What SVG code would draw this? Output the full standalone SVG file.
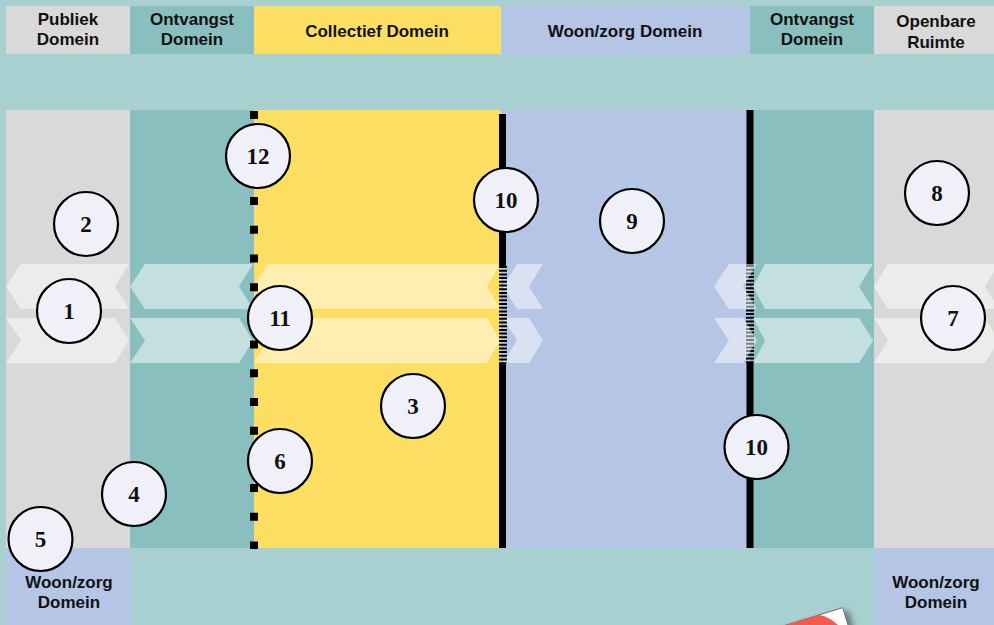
<svg xmlns="http://www.w3.org/2000/svg" width="994" height="625" viewBox="0 0 994 625">
  <defs>
    <style>
      .hdr { font-family: "Liberation Sans", Arial, sans-serif; font-weight: bold; font-size: 17px; fill: #111; text-anchor: middle; }
      .num { font-family: "Liberation Serif", "Times New Roman", serif; font-weight: bold; font-size: 23px; fill: #111; text-anchor: middle; }
      .badge { fill: #eff0f8; stroke: #000; stroke-width: 2.2; }
      .arrow { fill: #ffffff; fill-opacity: 0.5; }
      .wall { stroke: #000; stroke-width: 7; fill: none; }
      .hatch { stroke: #000; stroke-width: 8; stroke-dasharray: 2 1.7; fill: none; }
      .dots { stroke: #000; stroke-width: 8; stroke-dasharray: 8 20.7; fill: none; }
    </style>
    <filter id="cardShadow" x="-30%" y="-30%" width="160%" height="160%">
      <feGaussianBlur in="SourceAlpha" stdDeviation="3"/>
      <feOffset dx="5" dy="3" result="b"/>
      <feComponentTransfer><feFuncA type="linear" slope="0.45"/></feComponentTransfer>
      <feMerge><feMergeNode/><feMergeNode in="SourceGraphic"/></feMerge>
    </filter>
    <clipPath id="cardClip">
      <polygon points="842.7,607.7 747.1,636.9 764.6,694 860.2,665"/>
    </clipPath>
  </defs>

  <!-- base -->
  <rect x="0" y="0" width="994" height="625" fill="#a9d0d0"/>

  <!-- header bands -->
  <g id="header">
    <rect x="6" y="6" width="124" height="48" fill="#d9d9d9"/>
    <rect x="130" y="6" width="124" height="48" fill="#89bfbe"/>
    <rect x="254" y="6" width="247" height="48" fill="#fcdf62"/>
    <rect x="501" y="6" width="249" height="48" fill="#b4c5e5"/>
    <rect x="750" y="6" width="124" height="48" fill="#89bfbe"/>
    <rect x="874" y="6" width="120" height="48" fill="#d9d9d9"/>
    <text class="hdr" x="68" y="25">Publiek</text>
    <text class="hdr" x="68" y="45">Domein</text>
    <text class="hdr" x="192" y="25">Ontvangst</text>
    <text class="hdr" x="192" y="45">Domein</text>
    <text class="hdr" x="377" y="37">Collectief Domein</text>
    <text class="hdr" x="625" y="37">Woon/zorg Domein</text>
    <text class="hdr" x="812" y="25">Ontvangst</text>
    <text class="hdr" x="812" y="45">Domein</text>
    <text class="hdr" x="936" y="27">Openbare</text>
    <text class="hdr" x="936" y="47.5">Ruimte</text>
  </g>

  <!-- domain columns -->
  <g id="columns">
    <rect x="6" y="110" width="124" height="438" fill="#d9d9d9"/>
    <rect x="130" y="110" width="124" height="438" fill="#89bfbe"/>
    <rect x="254" y="110" width="247" height="438" fill="#fcdf62"/>
    <rect x="501" y="110" width="249" height="438" fill="#b4c5e5"/>
    <rect x="750" y="110" width="124" height="438" fill="#89bfbe"/>
    <rect x="874" y="110" width="120" height="438" fill="#d9d9d9"/>
  </g>

  <!-- footer boxes -->
  <g id="footer">
    <rect x="6" y="548" width="124" height="77" fill="#b4c5e5"/>
    <rect x="874" y="548" width="120" height="77" fill="#b4c5e5"/>
    <text class="hdr" x="69" y="588">Woon/zorg</text>
    <text class="hdr" x="69" y="608">Domein</text>
    <text class="hdr" x="936" y="588">Woon/zorg</text>
    <text class="hdr" x="936" y="608">Domein</text>
  </g>

  <!-- right boundary wall (passable section below the arrows) -->
  <g id="wall-right">
    <line class="wall" x1="750" y1="110" x2="750" y2="265"/>
    <line class="hatch" x1="750" y1="265" x2="750" y2="363"/>
    <line class="wall" x1="750" y1="363" x2="750" y2="548"/>
  </g>

  <!-- movement arrows: top row points inward (left), bottom row outward (right) -->
  <g id="arrows">
    <polygon class="arrow" points="6,286.5 21,264 129,264 115,286.5 129,309 21,309"/>
    <polygon class="arrow" points="130,286.5 145,264 253,264 239,286.5 253,309 145,309"/>
    <polygon class="arrow" points="254,286.5 268,264 500,264 487,286.5 500,309 268,309"/>
    <polygon class="arrow" points="503,286.5 517,264 543,264 529,286.5 543,309 517,309"/>
    <polygon class="arrow" points="714,286.5 729,264 757,264 743,286.5 757,309 729,309"/>
    <polygon class="arrow" points="753,286.5 765,264 873,264 859,286.5 873,309 765,309"/>
    <polygon class="arrow" points="874,286.5 888,264 999,264 985,286.5 999,309 888,309"/>

    <polygon class="arrow" points="6,318 115,318 129,340.5 115,363 6,363 21,340.5"/>
    <polygon class="arrow" points="130,318 239,318 253,340.5 239,363 130,363 145,340.5"/>
    <polygon class="arrow" points="254,318 487,318 500,340.5 487,363 254,363 268,340.5"/>
    <polygon class="arrow" points="503,318 529,318 543,340.5 529,363 503,363 517,340.5"/>
    <polygon class="arrow" points="714,318 743,318 757,340.5 743,363 714,363 729,340.5"/>
    <polygon class="arrow" points="753,318 859,318 873,340.5 859,363 753,363 765,340.5"/>
    <polygon class="arrow" points="874,318 985,318 999,340.5 985,363 874,363 888,340.5"/>
  </g>

  <!-- left boundary wall of the living domain -->
  <g id="wall-left">
    <line class="wall" x1="502.5" y1="114" x2="502.5" y2="266"/>
    <line class="hatch" x1="503" y1="266" x2="503" y2="363"/>
    <line class="wall" x1="502.5" y1="363" x2="502.5" y2="548"/>
  </g>

  <!-- dotted threshold between reception and collective domain -->
  <g id="threshold">
    <line class="dots" x1="254" y1="111" x2="254" y2="549"/>
  </g>

  <!-- numbered markers -->
  <g id="node-1"><circle class="badge" cx="69" cy="311" r="32"/><text class="num" x="69" y="319">1</text></g>
  <g id="node-2"><circle class="badge" cx="86" cy="224" r="32"/><text class="num" x="86" y="232">2</text></g>
  <g id="node-3"><circle class="badge" cx="413" cy="406" r="32"/><text class="num" x="413" y="414">3</text></g>
  <g id="node-4"><circle class="badge" cx="134" cy="494" r="32"/><text class="num" x="134" y="502">4</text></g>
  <g id="node-5"><circle class="badge" cx="40.5" cy="539" r="32"/><text class="num" x="40.5" y="547">5</text></g>
  <g id="node-6"><circle class="badge" cx="280" cy="461" r="32"/><text class="num" x="280" y="469">6</text></g>
  <g id="node-7"><circle class="badge" cx="953" cy="318" r="32"/><text class="num" x="953" y="326">7</text></g>
  <g id="node-8"><circle class="badge" cx="937" cy="193" r="32"/><text class="num" x="937" y="201">8</text></g>
  <g id="node-9"><circle class="badge" cx="632" cy="221" r="32"/><text class="num" x="632" y="229">9</text></g>
  <g id="node-10a"><circle class="badge" cx="506" cy="200" r="32"/><text class="num" x="506" y="208">10</text></g>
  <g id="node-10b"><circle class="badge" cx="756.5" cy="447" r="32"/><text class="num" x="756.5" y="455">10</text></g>
  <g id="node-11"><circle class="badge" cx="280" cy="318" r="32"/><text class="num" x="280" y="326">11</text></g>
  <g id="node-12"><circle class="badge" cx="258" cy="156" r="32"/><text class="num" x="258" y="164">12</text></g>

  <!-- corner of a tilted card -->
  <g id="card" filter="url(#cardShadow)">
    <polygon points="842.7,607.7 747.1,636.9 764.6,694 860.2,665" fill="#ffffff" stroke="#6f6f6f" stroke-width="1"/>
    <circle cx="812" cy="650" r="36" fill="#f45a4c" clip-path="url(#cardClip)"/>
  </g>
</svg>
